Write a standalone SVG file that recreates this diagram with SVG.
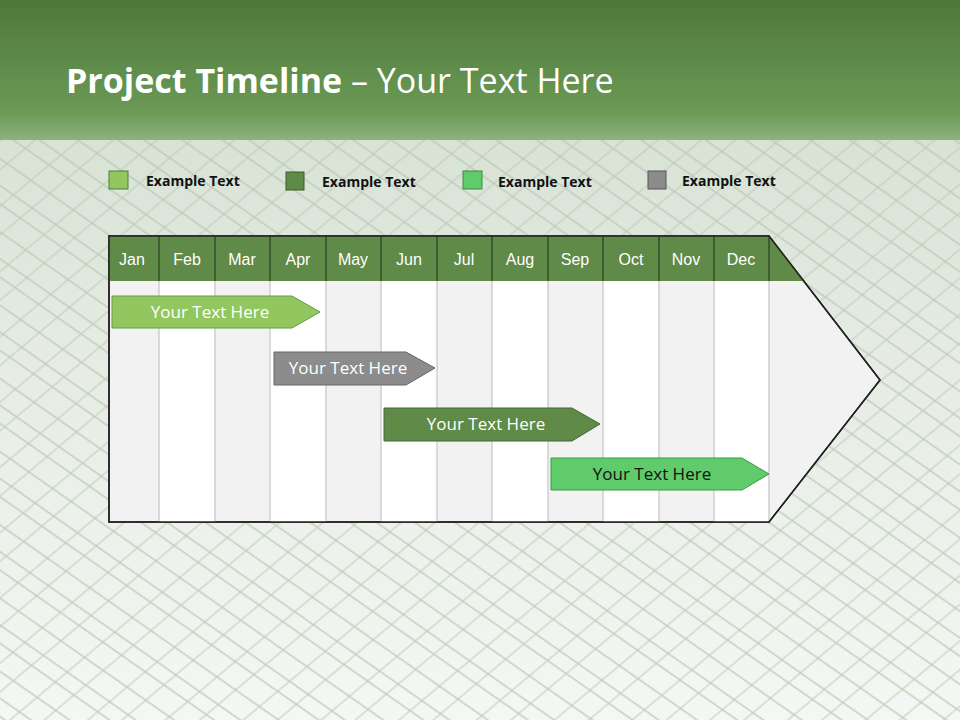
<svg xmlns="http://www.w3.org/2000/svg" width="960" height="720" viewBox="0 0 960 720">
<defs>
<linearGradient id="hdr" x1="0" y1="0" x2="0" y2="1"><stop offset="0" stop-color="#4e773a"/><stop offset="0.8" stop-color="#6a9a55"/><stop offset="1" stop-color="#8fb27f"/></linearGradient>
<linearGradient id="bg" x1="0" y1="0" x2="0" y2="1"><stop offset="0" stop-color="#cfdccb"/><stop offset="0.5" stop-color="#e6ece4"/><stop offset="1" stop-color="#f4f7f3"/></linearGradient>
<pattern id="lines" width="60" height="60" patternUnits="userSpaceOnUse" patternTransform="rotate(35)"><path d="M0 10H60M0 32H60M0 47H60" stroke="#b7c6b2" stroke-width="2" opacity="0.6"/></pattern>
<pattern id="lines2" width="50" height="50" patternUnits="userSpaceOnUse" patternTransform="rotate(-40)"><path d="M0 8H50M0 30H50" stroke="#bccbb7" stroke-width="2" opacity="0.5"/></pattern>
</defs>
<style>
.m{font-family:"Liberation Sans",Arial,sans-serif;font-size:16px;fill:#fff;text-anchor:middle}
.lg{font-family:"Open Sans","Liberation Sans",sans-serif;font-size:14px;font-weight:bold;fill:#111}
.bt{font-family:"Open Sans","Liberation Sans",sans-serif;font-size:17px;text-anchor:middle}
.g{fill:#f2f2f2}.w{fill:#fff}
.sep{stroke:#d0d0d0;stroke-width:1.5}
</style>
<rect width="960" height="720" fill="url(#bg)"/>
<rect width="960" height="720" fill="url(#lines)"/>
<rect width="960" height="720" fill="url(#lines2)"/>
<rect width="960" height="140" fill="url(#hdr)"/>
<text x="66" y="93" font-family="'Open Sans','Liberation Sans',sans-serif" font-size="34" fill="#fff"><tspan font-weight="bold">Project Timeline</tspan> – Your Text Here</text>
<g id="legend">
<rect x="109" y="171" width="19" height="18" fill="#92c65f" stroke="#4e7a3a"/><text class="lg" x="146" y="186">Example Text</text>
<rect x="286" y="172" width="18" height="18" fill="#5f8a47" stroke="#3c5a2d"/><text class="lg" x="322" y="187">Example Text</text>
<rect x="463" y="171" width="19" height="18" fill="#5fcb6a" stroke="#3c8a45"/><text class="lg" x="498" y="187">Example Text</text>
<rect x="648" y="171" width="18" height="18" fill="#8c8c8c" stroke="#555"/><text class="lg" x="682" y="186">Example Text</text>
</g>
<g id="chart">
<path d="M109 236H769L880 380L769 522H109Z" fill="#f2f2f2" stroke="#222" stroke-width="1.5"/>
<rect class="w" x="159" y="281" width="56" height="241"/>
<rect class="w" x="270" y="281" width="56" height="241"/>
<rect class="w" x="381" y="281" width="56" height="241"/>
<rect class="w" x="492" y="281" width="56" height="241"/>
<rect class="w" x="603" y="281" width="56" height="241"/>
<rect class="w" x="714" y="281" width="55" height="241"/>
<g class="sep"><path d="M159 281V522M215 281V522M270 281V522M326 281V522M381 281V522M437 281V522M492 281V522M548 281V522M603 281V522M659 281V522M714 281V522M769 281V522"/></g>
<path d="M109 236H769L805 281H109Z" fill="#5f8a47"/>
<path d="M159 236V281M215 236V281M270 236V281M326 236V281M381 236V281M437 236V281M492 236V281M548 236V281M603 236V281M659 236V281M714 236V281M769 236V281" stroke="#2a3f20" stroke-width="1.2"/>
<path d="M109 236H769L880 380L769 522H109Z" fill="none" stroke="#222" stroke-width="1.5"/>
<g class="m"><text x="132" y="265">Jan</text><text x="187" y="265">Feb</text><text x="242" y="265">Mar</text><text x="298" y="265">Apr</text><text x="353" y="265">May</text><text x="409" y="265">Jun</text><text x="464" y="265">Jul</text><text x="520" y="265">Aug</text><text x="575" y="265">Sep</text><text x="631" y="265">Oct</text><text x="686" y="265">Nov</text><text x="741" y="265">Dec</text></g>
</g>
<g id="bar1"><path d="M112 296H292L320 312L292 328H112Z" fill="#92c65f" stroke="#6a9a45"/><text class="bt" x="210" y="318" fill="#fff">Your  Text Here</text></g>
<g id="bar2"><path d="M274 352H406L435 368L406 385H274Z" fill="#8c8c8c" stroke="#666"/><text class="bt" x="348" y="374" fill="#fff">Your  Text Here</text></g>
<g id="bar3"><path d="M384 408H572L600 424L572 441H384Z" fill="#5f8a47" stroke="#45673a"/><text class="bt" x="486" y="430" fill="#fff">Your  Text Here</text></g>
<g id="bar4"><path d="M551 458H742L769 474L742 490H551Z" fill="#5fcb6a" stroke="#3c9a45"/><text class="bt" x="652" y="480" fill="#111">Your  Text Here</text></g>
</svg>
